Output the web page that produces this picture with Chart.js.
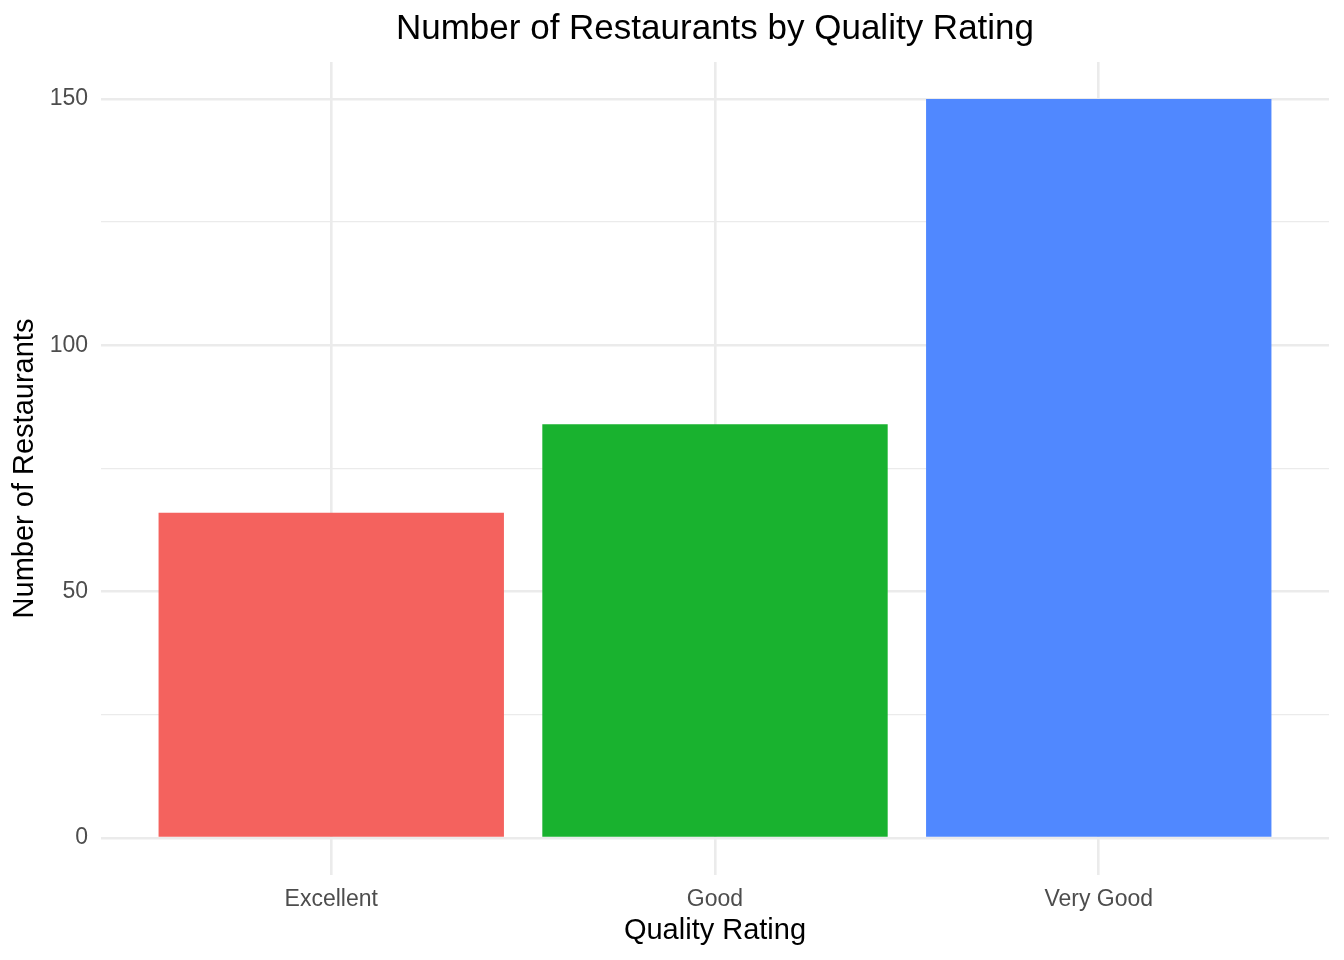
<!DOCTYPE html>
<html>
<head>
<meta charset="utf-8">
<script src="https://cdn.jsdelivr.net/npm/chart.js@4"></script>
<style>
  html, body { margin: 0; padding: 0; background: #fff; }
  #wrap { width: 1344px; height: 960px; }
</style>
</head>
<body>
<div id="wrap"><canvas id="ratings-chart" width="1344" height="960"></canvas></div>
<script>
// Dati
var categories = ['Excellent', 'Good', 'Very Good'];
var counts = [66, 84, 150];
var barColors = ['#F4625E', '#19B22F', '#5088FF'];
var yTicks = [0, 25, 50, 75, 100, 125, 150];

var fontFamily = '"Liberation Sans", Arial, Helvetica, sans-serif';

var ctx = document.getElementById('ratings-chart').getContext('2d');
var ratingsChart = new Chart(ctx, {
    type: 'bar',
    data: {
        datasets: [{
            data: categories.map(function(c, i){ return {x: i, y: counts[i]}; }),
            backgroundColor: barColors,
            borderWidth: 0,
            categoryPercentage: 1,
            barPercentage: 0.9
        }]
    },
    options: {
        responsive: false,
        animation: false,
        layout: { padding: { left: 0, right: 15, top: 0, bottom: 0 } },
        plugins: {
            legend: { display: false },
            tooltip: { enabled: false },
            title: {
                display: true,
                fullSize: false,
                text: 'Number of Restaurants by Quality Rating',
                color: '#000',
                font: { family: fontFamily, size: 35, weight: 'normal' },
                padding: { top: 8, bottom: 12 }
            }
        },
        scales: {
            x: {
                type: 'linear',
                min: -0.6,
                max: 2.6,
                offset: false,
                afterBuildTicks: function(scale){
                    scale.ticks = categories.map(function(c, i){ return {value: i}; });
                },
                afterFit: function(scale){ scale.height = 85; },
                ticks: {
                    callback: function(v){ return categories[v]; },
                    color: '#4D4D4D',
                    font: { family: fontFamily, size: 23 },
                    padding: 11,
                    maxRotation: 0,
                    autoSkip: false
                },
                grid: { color: '#EBEBEB', lineWidth: 2.6, drawTicks: false, offset: false },
                border: { display: false },
                title: {
                    display: true,
                    text: 'Quality Rating',
                    color: '#000',
                    font: { family: fontFamily, size: 29 },
                    padding: { top: 0, bottom: 12 }
                }
            },
            y: {
                min: -7.5,
                max: 157.5,
                afterBuildTicks: function(scale){
                    scale.ticks = yTicks.map(function(v){ return {value: v}; });
                },
                afterFit: function(scale){ scale.width = 101; },
                ticks: {
                    callback: function(v){ return v % 50 === 0 ? v : ''; },
                    color: '#4D4D4D',
                    font: { family: fontFamily, size: 23 },
                    padding: 13,
                    autoSkip: false
                },
                grid: {
                    color: '#EBEBEB',
                    lineWidth: function(c){ return c.tick && c.tick.value % 50 === 0 ? 2.6 : 1.3; },
                    drawTicks: false
                },
                border: { display: false },
                title: {
                    display: true,
                    text: 'Number of Restaurants',
                    color: '#000',
                    font: { family: fontFamily, size: 29 },
                    padding: { top: 8, bottom: 0 }
                }
            }
        }
    }
});
</script>
</body>
</html>
